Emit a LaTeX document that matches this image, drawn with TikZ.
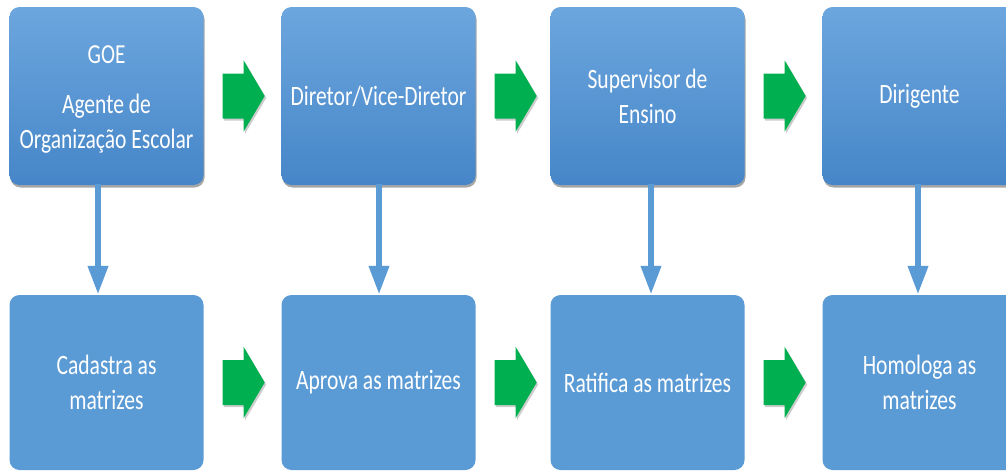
\documentclass[tikz,border=0pt]{standalone}
\usepackage{fontspec}
\newfontfamily\boxfont[FakeStretch=0.77]{Carlito}
\usetikzlibrary{arrows.meta,shadows}
\definecolor{boxtop}{RGB}{108,166,222}
\definecolor{boxbot}{RGB}{70,134,200}
\definecolor{boxflat}{RGB}{91,155,213}
\definecolor{arrgreen}{RGB}{0,176,80}
\definecolor{vline}{RGB}{91,155,213}
\tikzset{
  topbox/.style={rectangle, rounded corners=10pt, minimum width=194pt, minimum height=178pt,
    top color=boxtop, bottom color=boxbot, draw=none,
    drop shadow={shadow xshift=1pt, shadow yshift=-2.5pt, opacity=0.35, fill=black},
    text=white, align=center, font=\boxfont\fontsize{28}{35}\selectfont, inner sep=0pt},
  botbox/.style={rectangle, rounded corners=10pt, minimum width=194pt, minimum height=175pt,
    fill=boxflat, draw=none,
    text=white, align=center, font=\boxfont\fontsize{28}{35}\selectfont, inner sep=0pt},
  varrow/.style={draw=vline, line width=6.5pt, -{Triangle[width=19pt,length=29pt]}},
  greenarrow/.style={fill=arrgreen, drop shadow={shadow xshift=1.5pt, shadow yshift=-2pt, opacity=0.2, fill=black}},
}
\begin{document}
\begin{tikzpicture}[x=1pt,y=-1pt]
\useasboundingbox (0,0) rectangle (1006,471);
\fill[white] (0,0) rectangle (1006,471);
\begin{scope}
\clip (0,0) rectangle (1006,471);
% nodes
\node[topbox] (t1) at (106.5,96) {\fontsize{27.5}{31}\selectfont\rule{0pt}{25pt}GOE\\[15pt]Agente de\\Organização Escolar};
\node[topbox] (t2) at (378.5,96) {Diretor/Vice-Diretor};
\node[topbox] (t3) at (647.5,96) {Supervisor de\\Ensino};
\node[topbox] (t4) at (919.5,96) {Dirigente};
\node[botbox] (b1) at (106.5,382.5) {Cadastra as\\matrizes};
\node[botbox] (b2) at (378.5,382.5) {Aprova as matrizes};
\node[botbox] (b3) at (647.5,382.5) {Ratifica as matrizes};
\node[botbox] (b4) at (919.5,382.5) {Homologa as\\matrizes};
% vertical connectors
\draw[varrow] ([xshift=-8.5pt,yshift=1pt]t1.south) -- ([xshift=-8.5pt]b1.north);
\draw[varrow] ([xshift=0.5pt,yshift=1pt]t2.south) -- ([xshift=0.5pt]b2.north);
\draw[varrow] ([xshift=3.5pt,yshift=1pt]t3.south) -- ([xshift=3.5pt]b3.north);
\draw[varrow] ([xshift=-1.5pt,yshift=1pt]t4.south) -- ([xshift=-1.5pt]b4.north);
% green block arrows
\foreach \s in {t1, t2, t3, b1, b2, b3}{
  \path[greenarrow] ([xshift=19pt]\s.east) ++(0,-22.5) -- ++(21,0) -- ++(0,-13) -- ++(21,35.5)
     -- ++(-21,35.5) -- ++(0,-13) -- ++(-21,0) -- cycle;
}
\end{scope}
\end{tikzpicture}
\end{document}
